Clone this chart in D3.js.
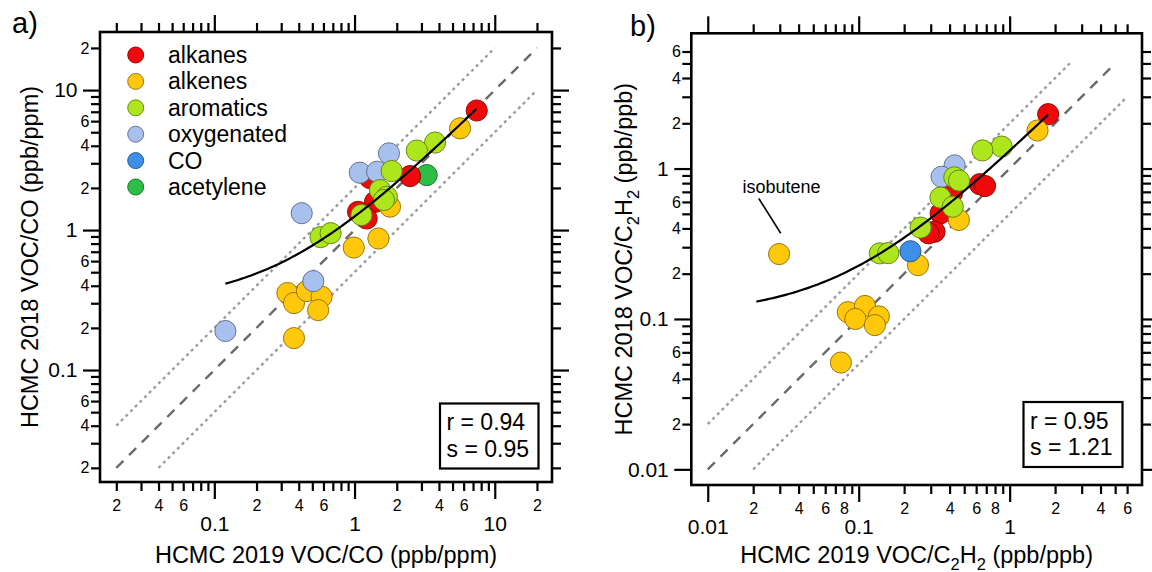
<!DOCTYPE html>
<html>
<head>
<meta charset="utf-8">
<script src="https://cdn.jsdelivr.net/npm/d3@7"></script>
<style>
  body { margin: 0; background: #fff; }
  svg { display: block; }
</style>
</head>
<body>
<svg id="chart" width="1152" height="572"></svg>
<script>
// --- data ---
const categories = ['alkanes', 'alkenes', 'aromatics', 'oxygenated', 'CO', 'acetylene'];
const catColors  = ['#EE0A0A', '#FFC80A', '#AEE61E', '#A8C0EE', '#3D8FE8', '#2DBE45'];
// drawing order (bottom -> top)
const drawOrder  = ['acetylene', 'alkanes', 'alkenes', 'oxygenated', 'aromatics', 'CO'];

// panel a: VOC/CO, 2019 (x) vs 2018 (y)
const aX = [7.44, 1.29, 2.49, 1.40, 1.06, 1.22,
            5.66, 1.79, 0.987, 1.48, 0.332, 0.370, 0.458, 0.582, 0.550, 0.370,
            3.75, 2.78, 1.84, 1.52, 1.70, 1.62, 1.12, 0.572, 0.675,
            1.76, 1.09, 1.45, 0.42, 0.508, 0.120,
            3.27];
const aY = [7.15, 2.35, 2.43, 1.59, 1.35, 1.21,
            5.33, 1.47, 0.75, 0.87, 0.355, 0.301, 0.367, 0.334, 0.268, 0.169,
            4.22, 3.70, 2.64, 1.93, 1.73, 1.64, 1.28, 0.89, 0.95,
            3.53, 2.57, 2.61, 1.32, 0.432, 0.190,
            2.47];
const aGroup = ['alkanes', 'alkanes', 'alkanes', 'alkanes', 'alkanes', 'alkanes',
                'alkenes', 'alkenes', 'alkenes', 'alkenes', 'alkenes', 'alkenes', 'alkenes', 'alkenes', 'alkenes', 'alkenes',
                'aromatics', 'aromatics', 'aromatics', 'aromatics', 'aromatics', 'aromatics', 'aromatics', 'aromatics', 'aromatics',
                'oxygenated', 'oxygenated', 'oxygenated', 'oxygenated', 'oxygenated', 'oxygenated',
                'acetylene'];

// panel b: VOC/C2H2, 2019 (x) vs 2018 (y)
const bX = [1.80, 0.635, 0.687, 0.415, 0.349, 0.318, 0.290,
            1.53, 0.461, 0.247, 0.0297, 0.0847, 0.110, 0.095, 0.136, 0.128, 0.0762,
            0.885, 0.660, 0.430, 0.462, 0.348, 0.420, 0.257, 0.138, 0.157,
            0.432, 0.354,
            0.220];
const bY = [2.30, 0.787, 0.765, 0.687, 0.504, 0.380, 0.371,
            1.79, 0.455, 0.228, 0.270, 0.111, 0.122, 0.100, 0.104, 0.091, 0.0513,
            1.40, 1.32, 0.874, 0.832, 0.641, 0.557, 0.405, 0.273, 0.274,
            1.05, 0.882,
            0.282];
const bGroup = ['alkanes', 'alkanes', 'alkanes', 'alkanes', 'alkanes', 'alkanes', 'alkanes',
                'alkenes', 'alkenes', 'alkenes', 'alkenes', 'alkenes', 'alkenes', 'alkenes', 'alkenes', 'alkenes', 'alkenes',
                'aromatics', 'aromatics', 'aromatics', 'aromatics', 'aromatics', 'aromatics', 'aromatics', 'aromatics', 'aromatics',
                'oxygenated', 'oxygenated',
                'CO'];

// fits: [slope, intercept, x start, x end]
const fitA = [0.95, 0.30, 0.12, 7.4];
const fitB = [1.21, 0.105, 0.021, 1.8];
const statsA = ['r = 0.94', 's = 0.95'];
const statsB = ['r = 0.95', 's = 1.21'];

// ticks
const aMajor = [0.1, 1, 10];
const aMinor = [0.02, 0.03, 0.04, 0.05, 0.06, 0.07, 0.08, 0.09,
                0.2, 0.3, 0.4, 0.5, 0.6, 0.7, 0.8, 0.9,
                2, 3, 4, 5, 6, 7, 8, 9, 20];
const aMinorLabels = [0.02, 0.04, 0.06, 0.2, 0.4, 0.6, 2, 4, 6, 20];
const bMajor = [0.01, 0.1, 1];
const bMinor = [0.02, 0.03, 0.04, 0.05, 0.06, 0.07, 0.08, 0.09,
                0.2, 0.3, 0.4, 0.5, 0.6, 0.7, 0.8, 0.9,
                2, 3, 4, 5, 6];
const bMinorLabelsX = [0.02, 0.04, 0.06, 0.08, 0.2, 0.4, 0.6, 0.8, 2, 4, 6];
const bMinorLabelsY = [0.02, 0.04, 0.06, 0.2, 0.4, 0.6, 2, 4, 6];

const FONT = '"Liberation Sans", Arial, Helvetica, sans-serif';
const color = d3.scaleOrdinal().domain(categories).range(catColors);
const svg = d3.select('#chart').attr('font-family', FONT);

function has(list, v) { return list.some(l => Math.abs(l / v - 1) < 1e-6); }
function lead(v) { return String(Math.round(v / Math.pow(10, Math.floor(Math.log10(v) + 1e-9)))); }

function drawTicks(scale, orient, pos, vals, len, labels, fs, pad, fmt) {
    const mk = { bottom: d3.axisBottom, top: d3.axisTop, left: d3.axisLeft, right: d3.axisRight }[orient];
    const axis = mk(scale).tickValues(vals).tickSize(len).tickPadding(pad)
        .tickFormat(v => (labels && has(labels, v)) ? fmt(v) : '');
    const tr = (orient === 'bottom' || orient === 'top') ? `translate(0,${pos})` : `translate(${pos},0)`;
    const g = svg.append('g').attr('transform', tr).call(axis)
        .attr('font-family', FONT).attr('font-size', fs);
    g.select('.domain').remove();
    g.selectAll('line').attr('stroke', '#000').attr('stroke-width', 2.2);
    g.selectAll('text').attr('fill', '#000');
}

function title(x, y, rotate, parts, fs) {
    const t = svg.append('text')
        .attr('transform', `translate(${x},${y})` + (rotate ? ' rotate(-90)' : ''))
        .attr('text-anchor', 'middle').attr('font-size', fs).attr('fill', '#000');
    let shifted = false;
    parts.forEach(p => {
        const sub = Array.isArray(p);
        const s = t.append('tspan').text(sub ? p[0] : p);
        if (sub) { s.attr('font-size', fs * 0.7).attr('dy', fs * 0.28); shifted = true; }
        else if (shifted) { s.attr('dy', -fs * 0.28); shifted = false; }
    });
}

function panel(cfg) {
    const x = d3.scaleLog().domain(cfg.xDom).range([cfg.left, cfg.right]);
    const y = d3.scaleLog().domain(cfg.yDom).range([cfg.bottom, cfg.top]);

    // reference lines: 1:1 dashed, 2:1 and 1:2 dotted
    const seg = (k, x0, x1, dash, col) => svg.append('line')
        .attr('x1', x(x0)).attr('y1', y(k * x0)).attr('x2', x(x1)).attr('y2', y(k * x1))
        .attr('stroke', col).attr('stroke-width', 2.4).attr('stroke-dasharray', dash);
    seg(1, cfg.one[0], cfg.one[1], '10,8', '#6a6a6a');
    seg(2, cfg.up[0], cfg.up[1], '3,3.6', '#9d9d9d');
    seg(0.5, cfg.lo[0], cfg.lo[1], '3,3.6', '#9d9d9d');

    // points
    const pts = cfg.X.map((v, i) => ({ x: v, y: cfg.Y[i], g: cfg.G[i] }))
        .sort((a, b) => drawOrder.indexOf(a.g) - drawOrder.indexOf(b.g));
    svg.append('g').selectAll('circle').data(pts).enter().append('circle')
        .attr('cx', d => x(d.x)).attr('cy', d => y(d.y)).attr('r', 10.6)
        .attr('fill', d => color(d.g))
        .attr('stroke', d => d3.color(color(d.g)).darker(1.7))
        .attr('stroke-width', 0.9);

    // fit curve (linear fit drawn on log axes)
    const [s, b, f0, f1] = cfg.fit;
    const fx = d3.range(0, 101).map(i => f0 * Math.pow(f1 / f0, i / 100));
    svg.append('path')
        .attr('d', d3.line().x(d => x(d)).y(d => y(s * d + b))(fx))
        .attr('fill', 'none').attr('stroke', '#000').attr('stroke-width', 2.2);

    // frame
    svg.append('rect').attr('x', cfg.left).attr('y', cfg.top)
        .attr('width', cfg.right - cfg.left).attr('height', cfg.bottom - cfg.top)
        .attr('fill', 'none').attr('stroke', '#000').attr('stroke-width', 2.6);

    // axes
    drawTicks(x, 'bottom', cfg.bottom, cfg.xMinor, 9, cfg.xMinLab, 16, 8.5, lead);
    drawTicks(x, 'bottom', cfg.bottom, cfg.xMajor, 17, cfg.xMajor, 21, 17.5, String);
    drawTicks(x, 'top', cfg.top, cfg.xMinor, 9, null, 16, 3, lead);
    drawTicks(x, 'top', cfg.top, cfg.xMajor, 17, null, 21, 3, String);
    drawTicks(y, 'left', cfg.left, cfg.yMinor, 9, cfg.yMinLab, 16, 1.5, lead);
    drawTicks(y, 'left', cfg.left, cfg.yMajor, 17, cfg.yMajor, 21, 5.5, String);
    drawTicks(y, 'right', cfg.right, cfg.yMinor, 9, null, 16, 3, lead);
    drawTicks(y, 'right', cfg.right, cfg.yMajor, 17, null, 21, 3, String);

    // titles
    title((cfg.left + cfg.right) / 2, 563, false, cfg.xTitle, 23.5);
    title(cfg.yTitleX, (cfg.top + cfg.bottom) / 2, true, cfg.yTitle, 23.5);
    svg.append('text').attr('x', cfg.tag[1]).attr('y', cfg.tag[2])
        .attr('font-size', 29).text(cfg.tag[0]);

    // stats box
    const bx = cfg.box;
    svg.append('rect').attr('x', bx[0]).attr('y', bx[1]).attr('width', bx[2]).attr('height', bx[3])
        .attr('fill', '#fff').attr('stroke', '#000').attr('stroke-width', 2.2);
    cfg.stats.forEach((t, i) => svg.append('text')
        .attr('x', bx[0] + 6.5).attr('y', bx[1] + 26.5 + i * 26.7)
        .attr('font-size', 23).text(t));

    return { x, y };
}

// panel a
panel({
    left: 100, right: 552, top: 32, bottom: 482,
    xDom: [0.0153, 25.6], yDom: [0.01585, 26],
    X: aX, Y: aY, G: aGroup, fit: fitA,
    one: [0.02, 20], up: [0.02, 10], lo: [0.04, 20],
    xMajor: aMajor, xMinor: aMinor, xMinLab: aMinorLabels,
    yMajor: aMajor, yMinor: aMinor, yMinLab: aMinorLabels,
    xTitle: ['HCMC 2019 VOC/CO (ppb/ppm)'],
    yTitle: ['HCMC 2018 VOC/CO (ppb/ppm)'], yTitleX: 38,
    tag: ['a)', 12, 33],
    box: [440, 403.5, 98.5, 65], stats: statsA
});

// legend (panel a)
const leg = svg.append('g');
categories.forEach((c, i) => {
    const yy = 55 + i * 26.4;
    leg.append('circle').attr('cx', 135.7).attr('cy', yy).attr('r', 8)
        .attr('fill', color(c)).attr('stroke', d3.color(color(c)).darker(1.7)).attr('stroke-width', 0.9);
    leg.append('text').attr('x', 168).attr('y', yy).attr('dy', '0.35em')
        .attr('font-size', 23).text(c);
});

// panel b
const pb = panel({
    left: 691.3, right: 1142, top: 33.3, bottom: 485,
    xDom: [0.00778, 7.53], yDom: [0.00787, 7.93],
    X: bX, Y: bY, G: bGroup, fit: fitB,
    one: [0.01, 5], up: [0.01, 2.5], lo: [0.02, 6],
    xMajor: bMajor, xMinor: bMinor, xMinLab: bMinorLabelsX,
    yMajor: bMajor, yMinor: bMinor, yMinLab: bMinorLabelsY,
    xTitle: ['HCMC 2019 VOC/C', ['2'], 'H', ['2'], ' (ppb/ppb)'],
    yTitle: ['HCMC 2018 VOC/C', ['2'], 'H', ['2'], ' (ppb/ppb)'], yTitleX: 632,
    tag: ['b)', 630, 36],
    box: [1023.5, 402, 99, 65], stats: statsB
});

// isobutene annotation
svg.append('text').attr('x', 742.5).attr('y', 193).attr('font-size', 18).text('isobutene');
svg.append('line').attr('x1', 758.8).attr('y1', 198.5).attr('x2', 780.7).attr('y2', 233.3)
    .attr('stroke', '#000').attr('stroke-width', 1.6);
</script>
</body>
</html>
